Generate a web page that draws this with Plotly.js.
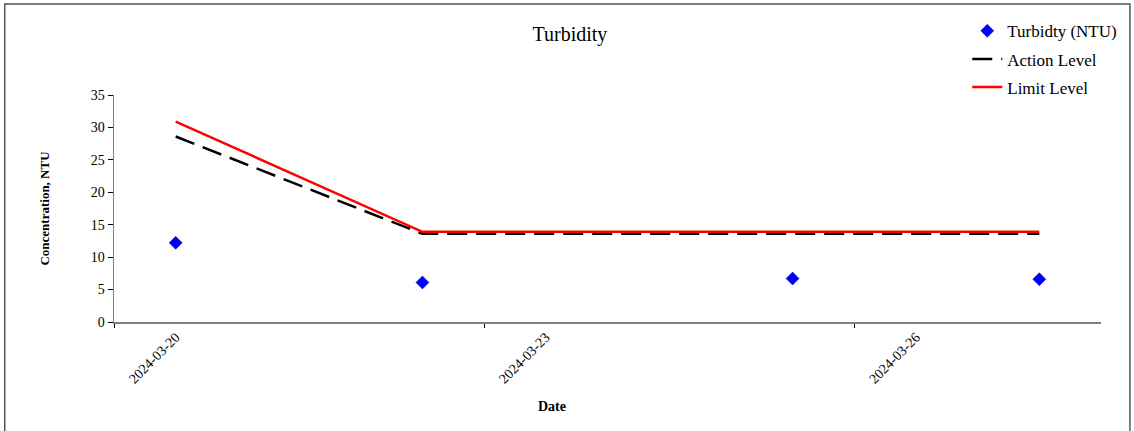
<!DOCTYPE html>
<html>
<head>
<meta charset="utf-8">
<script src="https://cdn.plot.ly/plotly-3.0.1.min.js"></script>
<style>
  html, body { margin: 0; padding: 0; background: #fff; }
  #chart { width: 1134px; height: 431px; }
</style>
</head>
<body>
<div id="chart"></div>
<script>
const dates = ['2024-03-20', '2024-03-22', '2024-03-25', '2024-03-27'];
const turbidity = [12.2, 6.1, 6.7, 6.6];
const actionLevel = [28.6, 13.6, 13.6, 13.6];
const limitLevel = [30.9, 13.9, 13.9, 13.9];
const xTickDates = ['2024-03-20', '2024-03-23', '2024-03-26'];
const xTickLabels = ['2024-03-20', '2024-03-23', '2024-03-26'];
const xTickMarks = ['2024-03-19 12:00', '2024-03-22 12:00', '2024-03-25 12:00'];
const yTicks = [0, 5, 10, 15, 20, 25, 30, 35];

const FONT = 'Liberation Serif, Times New Roman, serif';

const traces = [
  {
    x: dates, y: turbidity, name: 'Turbidty (NTU)', type: 'scatter', mode: 'markers',
    marker: { symbol: 'diamond', size: 10, color: '#0000FF', line: { color: '#00008B', width: 0.5 } },
    legendgroup: 'a'
  },
  {
    x: dates, y: actionLevel, name: 'Action Level', type: 'scatter', mode: 'lines',
    line: { color: '#000000', width: 2.5, dash: '20px,9px' },
    legendgroup: 'b'
  },
  {
    x: dates, y: limitLevel, name: 'Limit Level', type: 'scatter', mode: 'lines',
    line: { color: '#FF0000', width: 2.5 },
    legendgroup: 'c'
  }
];

const layout = {
  width: 1134, height: 431,
  margin: { l: 114, r: 31, t: 95, b: 109 },
  paper_bgcolor: '#ffffff', plot_bgcolor: '#ffffff',
  font: { family: FONT, size: 14, color: '#000' },
  title: { text: 'Turbidity', font: { family: FONT, size: 20, color: '#000' }, x: 0.5026, xanchor: 'center', xref: 'container', y: 0.922, yanchor: 'middle' },
  showlegend: true,
  legend: {
    x: 0.8645, xanchor: 'left', y: 1.36, yanchor: 'top',
    font: { family: FONT, size: 17, color: '#000' },
    traceorder: 'grouped', tracegroupgap: 3,
    bgcolor: 'rgba(0,0,0,0)'
  },
  xaxis: {
    type: 'date',
    range: ['2024-03-19 12:00', '2024-03-27 12:00'],
    tickmode: 'array', tickvals: xTickDates, ticktext: xTickLabels,
    tickangle: -45, ticks: '', showgrid: false, zeroline: false,
    showline: true, linecolor: '#808080', linewidth: 1.5,
    tickfont: { family: FONT, size: 14, color: '#000' },
    minor: { tickmode: 'array', tickvals: xTickMarks, ticks: 'outside', ticklen: 4, tickcolor: '#000', tickwidth: 1, showgrid: false }
  },
  yaxis: {
    range: [0, 35], tickmode: 'array', tickvals: yTicks,
    ticks: 'outside', ticklen: 5, tickcolor: '#000', tickwidth: 1,
    showgrid: false, zeroline: false,
    showline: true, linecolor: '#808080', linewidth: 1.5,
    tickfont: { family: FONT, size: 14, color: '#000' },
    title: { text: '<b>Concentration, NTU</b>', font: { family: FONT, size: 13, color: '#000' }, standoff: 38 }
  },
  annotations: [
    { text: '<b>Date</b>', xref: 'paper', yref: 'paper', x: 0.444, y: -0.374, xanchor: 'center', yanchor: 'middle',
      showarrow: false, font: { family: FONT, size: 14, color: '#000' } }
  ],
  shapes: [
    { type: 'rect', xref: 'paper', yref: 'paper', x0: -0.1107, x1: 1.0293, y0: -0.49, y1: 1.4005,
      line: { color: '#555555', width: 1.5 }, fillcolor: 'rgba(0,0,0,0)', layer: 'below' }
  ]
};

Plotly.newPlot('chart', traces, layout, { displayModeBar: false, staticPlot: true });
</script>
</body>
</html>
